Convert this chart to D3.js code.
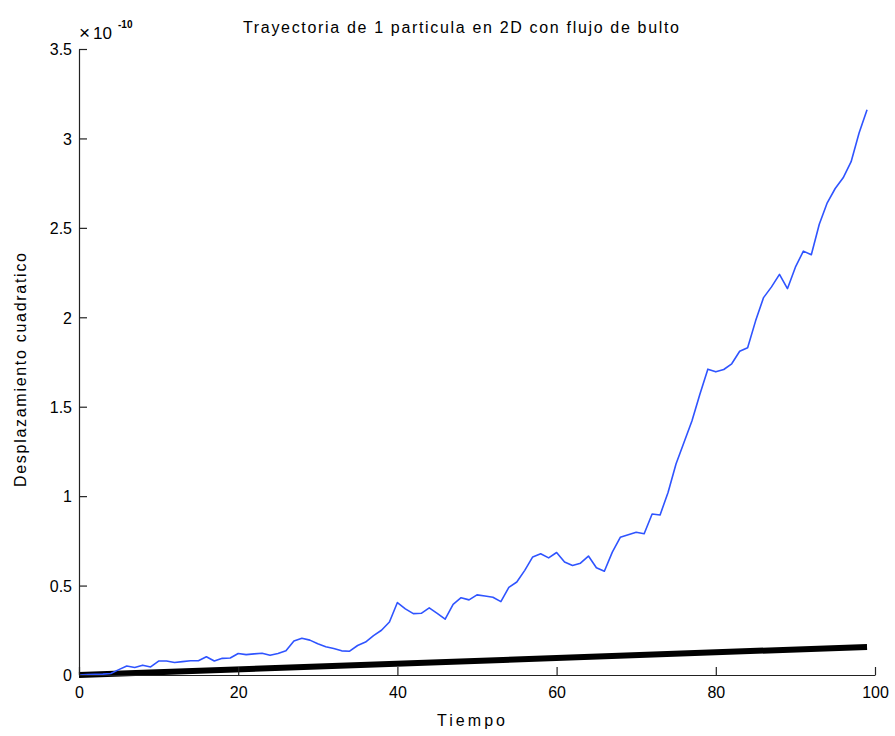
<!DOCTYPE html>
<html>
<head>
<meta charset="utf-8">
<script src="https://cdn.jsdelivr.net/npm/d3@7"></script>
<style>
  body { margin: 0; background: #fff; }
  text { font-family: "Liberation Sans", Arial, sans-serif; fill: #000; }
</style>
</head>
<body>
<div id="graphic"></div>
<script>
const WIDTH = 895;
const HEIGHT = 736;
const X_LEFT = 79;
const X_RIGHT = 875;
const Y_TOP = 49;
const Y_BOTTOM = 675;
const TICK = 8;
const FONT = 16;

// tiempo 0..99, desplazamiento en unidades de 1e-10
const TIME = d3.range(100);
const BLUE_VALUES = [
  0, 0.002, 0.004, 0.005, 0.008, 0.03, 0.05, 0.042, 0.055, 0.045,
  0.078, 0.078, 0.07, 0.075, 0.08, 0.08, 0.102, 0.078, 0.093, 0.095,
  0.12, 0.114, 0.118, 0.122, 0.11, 0.12, 0.135, 0.19, 0.205, 0.195,
  0.175, 0.158, 0.148, 0.135, 0.133, 0.165, 0.184, 0.22, 0.25, 0.296,
  0.405, 0.37, 0.343, 0.345, 0.375, 0.345, 0.312, 0.395, 0.432, 0.42,
  0.448, 0.442, 0.435, 0.41, 0.49, 0.52, 0.585, 0.66, 0.678, 0.655,
  0.685, 0.632, 0.612, 0.625, 0.665, 0.6, 0.58, 0.687, 0.77, 0.784,
  0.798, 0.79, 0.9, 0.895, 1.02, 1.18, 1.3, 1.42, 1.57, 1.71,
  1.695, 1.708, 1.74, 1.81, 1.83, 1.98, 2.11, 2.17, 2.24, 2.16,
  2.28, 2.37, 2.35, 2.52, 2.64, 2.72, 2.78, 2.87, 3.03, 3.16
];
const BLACK_TIME = [0, 99];
const BLACK_VALUES = [0.0, 0.157];
const X_TICKS = [0, 20, 40, 60, 80, 100];
const Y_TICKS = [0, 0.5, 1, 1.5, 2, 2.5, 3, 3.5];
const TITLE = "Trayectoria de 1 particula en 2D con flujo de bulto";
const X_LABEL = "Tiempo";
const Y_LABEL = "Desplazamiento cuadratico";

var svg = d3.select("#graphic")
  .append("svg")
  .attr("width", WIDTH)
  .attr("height", HEIGHT);

var xScale = d3.scaleLinear().domain([0, 100]).range([X_LEFT, X_RIGHT]);
var yScale = d3.scaleLinear().domain([0, 3.5]).range([Y_BOTTOM, Y_TOP]);

var line = d3.line()
  .x(d => xScale(d[0]))
  .y(d => yScale(d[1]));

svg.append("path")
  .datum(BLACK_TIME.map((t, i) => [t, BLACK_VALUES[i]]))
  .attr("fill", "none")
  .attr("stroke", "#000")
  .attr("stroke-width", 6)
  .attr("d", line);

svg.append("path")
  .datum(TIME.map((t, i) => [t, BLUE_VALUES[i]]))
  .attr("fill", "none")
  .attr("stroke", "#2f54ff")
  .attr("stroke-width", 1.6)
  .attr("stroke-linejoin", "round")
  .attr("d", line);

var xAxis = svg.append("g")
  .attr("transform", `translate(0, ${Y_BOTTOM})`)
  .call(d3.axisBottom(xScale)
    .tickValues(X_TICKS)
    .tickSizeInner(-TICK)
    .tickSizeOuter(0)
    .tickPadding(TICK + 4)
    .tickFormat(d3.format("d")));

var yAxis = svg.append("g")
  .attr("transform", `translate(${X_LEFT}, 0)`)
  .call(d3.axisLeft(yScale)
    .tickValues(Y_TICKS)
    .tickSizeInner(-TICK)
    .tickSizeOuter(0)
    .tickPadding(7)
    .tickFormat(d => d === 0 ? "0" : String(d)));

[xAxis, yAxis].forEach(a => {
  a.select(".domain").attr("stroke", "#222").attr("stroke-width", 1.2);
  a.selectAll(".tick line").attr("stroke", "#222").attr("stroke-width", 1.2);
  a.selectAll(".tick text")
    .attr("font-size", FONT)
    .attr("font-family", "Liberation Sans, Arial, sans-serif")
    .attr("fill", "#000");
});
yAxis.selectAll(".tick text").attr("dy", "0.36em");

// multiplicador del eje y
var mult = svg.append("text")
  .attr("x", 79)
  .attr("y", 39)
  .attr("font-size", 17);
mult.append("tspan").attr("font-size", 19).text("\u00d7");
mult.append("tspan").attr("dx", 3).text("10");
mult.append("tspan")
  .attr("dx", 6)
  .attr("dy", -11)
  .attr("font-size", 10)
  .attr("font-weight", "bold")
  .text("-10");

svg.append("text")
  .attr("x", 461)
  .attr("y", 33)
  .attr("text-anchor", "middle")
  .attr("font-size", FONT)
  .attr("textLength", 436)
  .attr("lengthAdjust", "spacing")
  .text(TITLE);

svg.append("text")
  .attr("x", 471)
  .attr("y", 726)
  .attr("text-anchor", "middle")
  .attr("font-size", FONT)
  .attr("textLength", 68)
  .attr("lengthAdjust", "spacing")
  .text(X_LABEL);

svg.append("text")
  .attr("transform", "translate(26, 370) rotate(-90)")
  .attr("text-anchor", "middle")
  .attr("font-size", FONT)
  .attr("textLength", 234)
  .attr("lengthAdjust", "spacing")
  .text(Y_LABEL);
</script>
</body>
</html>
